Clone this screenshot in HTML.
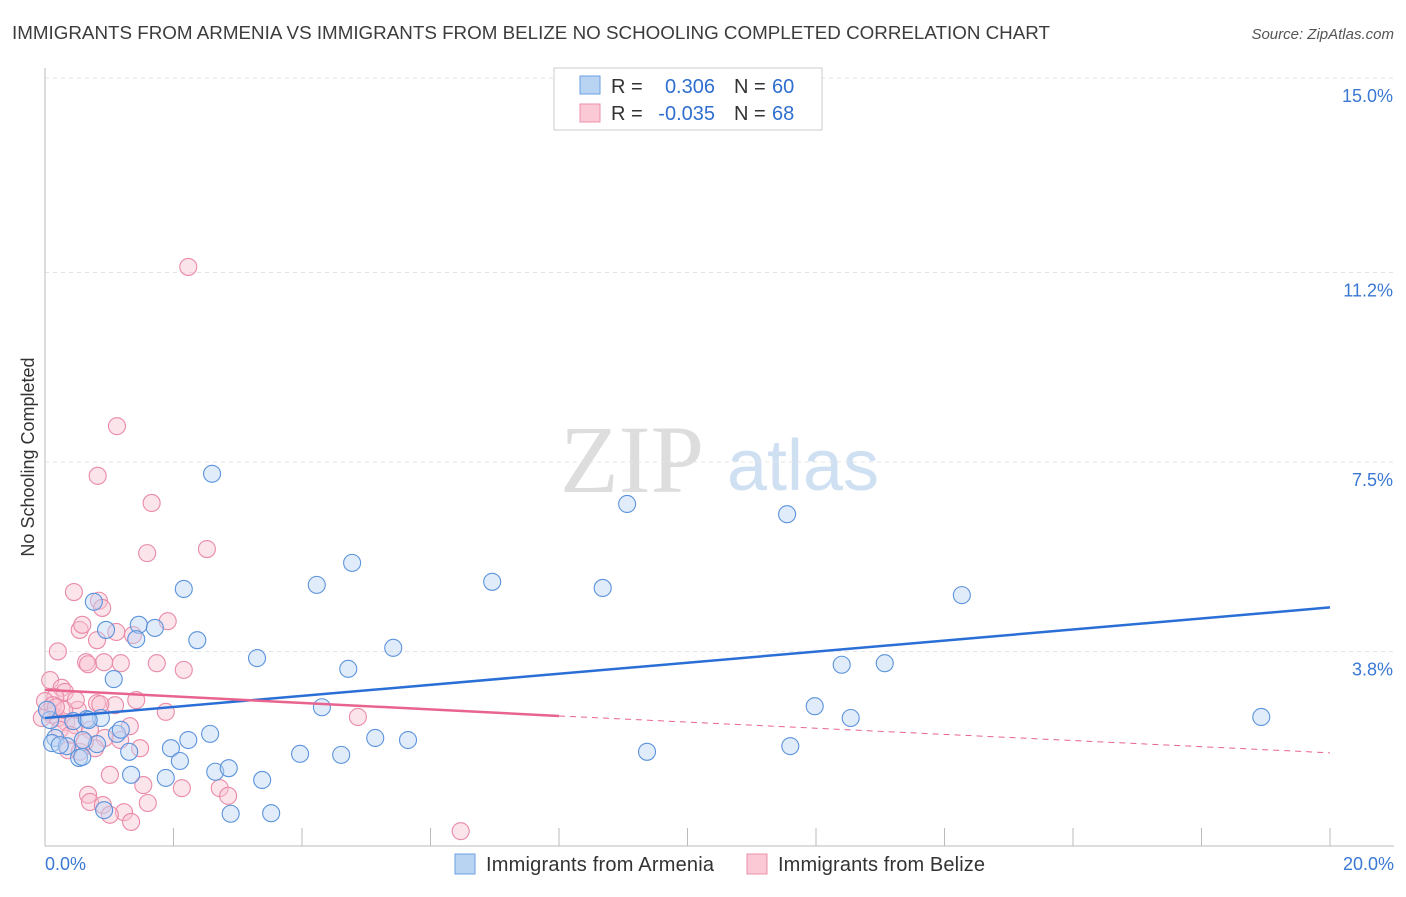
<!DOCTYPE html>
<html><head><meta charset="utf-8"><style>
body{margin:0;background:#fff;font-family:"Liberation Sans",sans-serif}
svg text{font-family:"Liberation Sans",sans-serif}
</style></head><body>
<svg id="chart" width="1406" height="892" xmlns="http://www.w3.org/2000/svg">
<text x="12" y="39" font-size="18" fill="#3c3c3c" textLength="1038" lengthAdjust="spacingAndGlyphs">IMMIGRANTS FROM ARMENIA VS IMMIGRANTS FROM BELIZE NO SCHOOLING COMPLETED CORRELATION CHART</text>
<text x="1394" y="39" font-size="15" fill="#555" text-anchor="end" font-style="italic">Source: ZipAtlas.com</text>
<g>
<text x="632" y="492" font-size="96" fill="#ddd" text-anchor="middle" font-family="Liberation Serif" style="font-family:'Liberation Serif',serif">ZIP</text>
<text x="803" y="490" font-size="72" fill="#cfe0f3" text-anchor="middle">atlas</text>
</g>
<g id="grid"></g><g id="axes"></g><g id="pts"></g><g id="lines"></g>
<text transform="translate(34,457) rotate(-90)" font-size="18" fill="#333" text-anchor="middle">No Schooling Completed</text>
<g>
<rect x="554" y="68" width="268" height="62" fill="#fff" stroke="#ccc"/>
<rect x="580" y="76" width="20" height="18" fill="#b9d4f3" stroke="#6a9fe0"/>
<rect x="580" y="104" width="20" height="18" fill="#fbc8d6" stroke="#ec8fab"/>
<text x="611" y="93" font-size="20" fill="#333">R =</text>
<text x="715" y="93" font-size="20" fill="#2f6fd0" text-anchor="end">0.306</text>
<text x="734" y="93" font-size="20" fill="#333">N =</text>
<text x="772" y="93" font-size="20" fill="#2f6fd0">60</text>
<text x="611" y="120" font-size="20" fill="#333">R =</text>
<text x="715" y="120" font-size="20" fill="#2f6fd0" text-anchor="end">-0.035</text>
<text x="734" y="120" font-size="20" fill="#333">N =</text>
<text x="772" y="120" font-size="20" fill="#2f6fd0">68</text>
</g>
<g>
<rect x="455" y="854" width="20" height="20" fill="#b9d4f3" stroke="#6a9fe0"/>
<text x="486" y="871" font-size="20" fill="#333" textLength="228">Immigrants from Armenia</text>
<rect x="747" y="854" width="20" height="20" fill="#fbc8d6" stroke="#ec8fab"/>
<text x="778" y="871" font-size="20" fill="#333" textLength="207">Immigrants from Belize</text>
</g>
</svg>
<script>
const yTicks=[3.8,7.5,11.2,15.0];
const yTickLabels=["3.8%","7.5%","11.2%","15.0%"];
const xTickLabels=["0.0%","20.0%"];
const armeniaX=[2.6,9.06,11.55,4.78,4.23,6.96,8.68,2.16,14.27,0.76,1.46,1.71,0.95,1.42,2.37,5.42,3.3,4.72,12.4,13.07,1.07,11.98,12.54,18.93,0.87,0.44,4.31,2.57,1.12,0.65,1.18,2.23,5.14,5.65,0.16,0.11,0.34,0.81,0.59,1.96,1.31,3.97,4.61,9.37,11.6,2.1,0.53,0.58,1.88,1.34,2.65,2.86,3.38,0.92,2.89,3.52,0.08,0.03,0.23,0.68];
const armeniaY=[7.27,6.68,6.48,5.53,5.1,5.16,5.04,5.02,4.9,4.77,4.32,4.26,4.22,4.04,4.02,3.87,3.67,3.46,3.54,3.57,3.26,2.73,2.5,2.52,2.5,2.44,2.71,2.19,2.19,2.48,2.27,2.07,2.11,2.07,2.11,2.01,1.95,1.99,2.07,1.91,1.84,1.8,1.78,1.84,1.95,1.66,1.72,1.74,1.33,1.39,1.45,1.52,1.29,0.7,0.63,0.64,2.46,2.66,1.97,2.46];
const belizeX=[2.23,1.12,0.82,1.66,2.52,1.59,0.45,0.84,0.89,1.91,0.54,0.58,0.81,1.11,1.37,0.2,0.64,0.67,0.92,1.18,1.74,2.16,0.08,0.26,0.31,0.16,1.42,0.81,1.09,1.88,4.87,0.05,0.11,0.2,0.33,0.47,0.23,0.39,0.7,1.32,0.93,0.36,0.54,0.78,1.48,1.01,1.53,2.13,2.72,2.85,0.67,0.7,0.9,1.23,1.6,1.01,1.34,6.47,-0.05,0,0.51,0.12,0.3,0.62,1.17,0.86,0.48,0.17];
const belizeY=[11.31,8.2,7.23,6.7,5.8,5.72,4.96,4.79,4.65,4.39,4.22,4.32,4.02,4.18,4.12,3.8,3.59,3.55,3.59,3.57,3.57,3.44,3.24,3.09,3.01,2.91,2.85,2.79,2.75,2.62,2.52,2.62,2.56,2.5,2.42,2.36,2.27,2.17,2.27,2.34,2.11,1.87,1.84,1.91,1.91,1.39,1.19,1.13,1.13,0.98,1.0,0.86,0.8,0.66,0.84,0.61,0.47,0.29,2.5,2.83,2.66,2.75,2.66,2.03,2.07,2.77,2.85,2.71];
const armeniaTrend=[[0,2.5],[20,4.66]];
const belizeTrend=[[0,3.05],[8,2.54],[20,1.82]];
const NS="http://www.w3.org/2000/svg";
const X0=45,X1=1330,Y0=846,PXY=51.2;
const xs=v=>X0+(X1-X0)*v/20, ys=v=>Y0-v*PXY;
function mk(t,a,p){const e=document.createElementNS(NS,t);for(const k in a)e.setAttribute(k,a[k]);p.appendChild(e);return e;}
const grid=document.getElementById('grid'),axes=document.getElementById('axes'),pts=document.getElementById('pts'),lines=document.getElementById('lines');
yTicks.forEach((t,i)=>{
 const l=mk('line',{x1:X0,x2:1394,y1:ys(t),y2:ys(t),stroke:'#e4e4e4','stroke-dasharray':'4,4'},grid);
 
 
 const tx=mk('text',{x:1393,y:ys(t)+24,'font-size':18,fill:'#3a78d4','text-anchor':'end'},axes);
 tx.textContent=yTickLabels[i];
 
 
});
const ax=mk('line',{x1:X0,x2:X0,y1:68,y2:846,stroke:'#bbb'},axes);


const bx=mk('line',{x1:X0,x2:1394,y1:846,y2:846,stroke:'#bbb'},axes);


for(let i=1;i<=10;i++){const t=mk('line',{x1:xs(i*2),x2:xs(i*2),y1:828,y2:846,stroke:'#bbb'},axes);
 
 }
[[0,'start',45],[20,'end',1394]].forEach((d,i)=>{const t=mk('text',{x:d[2],y:870,'font-size':18,fill:'#3a78d4','text-anchor':d[1]},axes);t.textContent=xTickLabels[i];
 
 });
function dots(X,Y,fill,stroke,name){X.forEach((x,i)=>{const c=mk('circle',{cx:xs(x),cy:ys(Y[i]),r:8.5,fill:fill,'fill-opacity':0.45,stroke:stroke,'stroke-width':1.1},pts);
 
 });}
dots(belizeX,belizeY,'#f8c4d3','#ea8aa8','belize-point');
dots(armeniaX,armeniaY,'#bcd5f3','#5b93dc','armenia-point');
const a=mk('line',{x1:xs(armeniaTrend[0][0]),y1:ys(armeniaTrend[0][1]),x2:xs(armeniaTrend[1][0]),y2:ys(armeniaTrend[1][1]),stroke:'#2a6fd6','stroke-width':2.5},lines);


const b=mk('line',{x1:xs(belizeTrend[0][0]),y1:ys(belizeTrend[0][1]),x2:xs(belizeTrend[1][0]),y2:ys(belizeTrend[1][1]),stroke:'#e8648e','stroke-width':2.5},lines);


const bd=mk('line',{x1:xs(belizeTrend[1][0]),y1:ys(belizeTrend[1][1]),x2:xs(belizeTrend[2][0]),y2:ys(belizeTrend[2][1]),stroke:'#e8648e','stroke-width':1,'stroke-dasharray':'6,5'},lines);


</script>
</body></html>
